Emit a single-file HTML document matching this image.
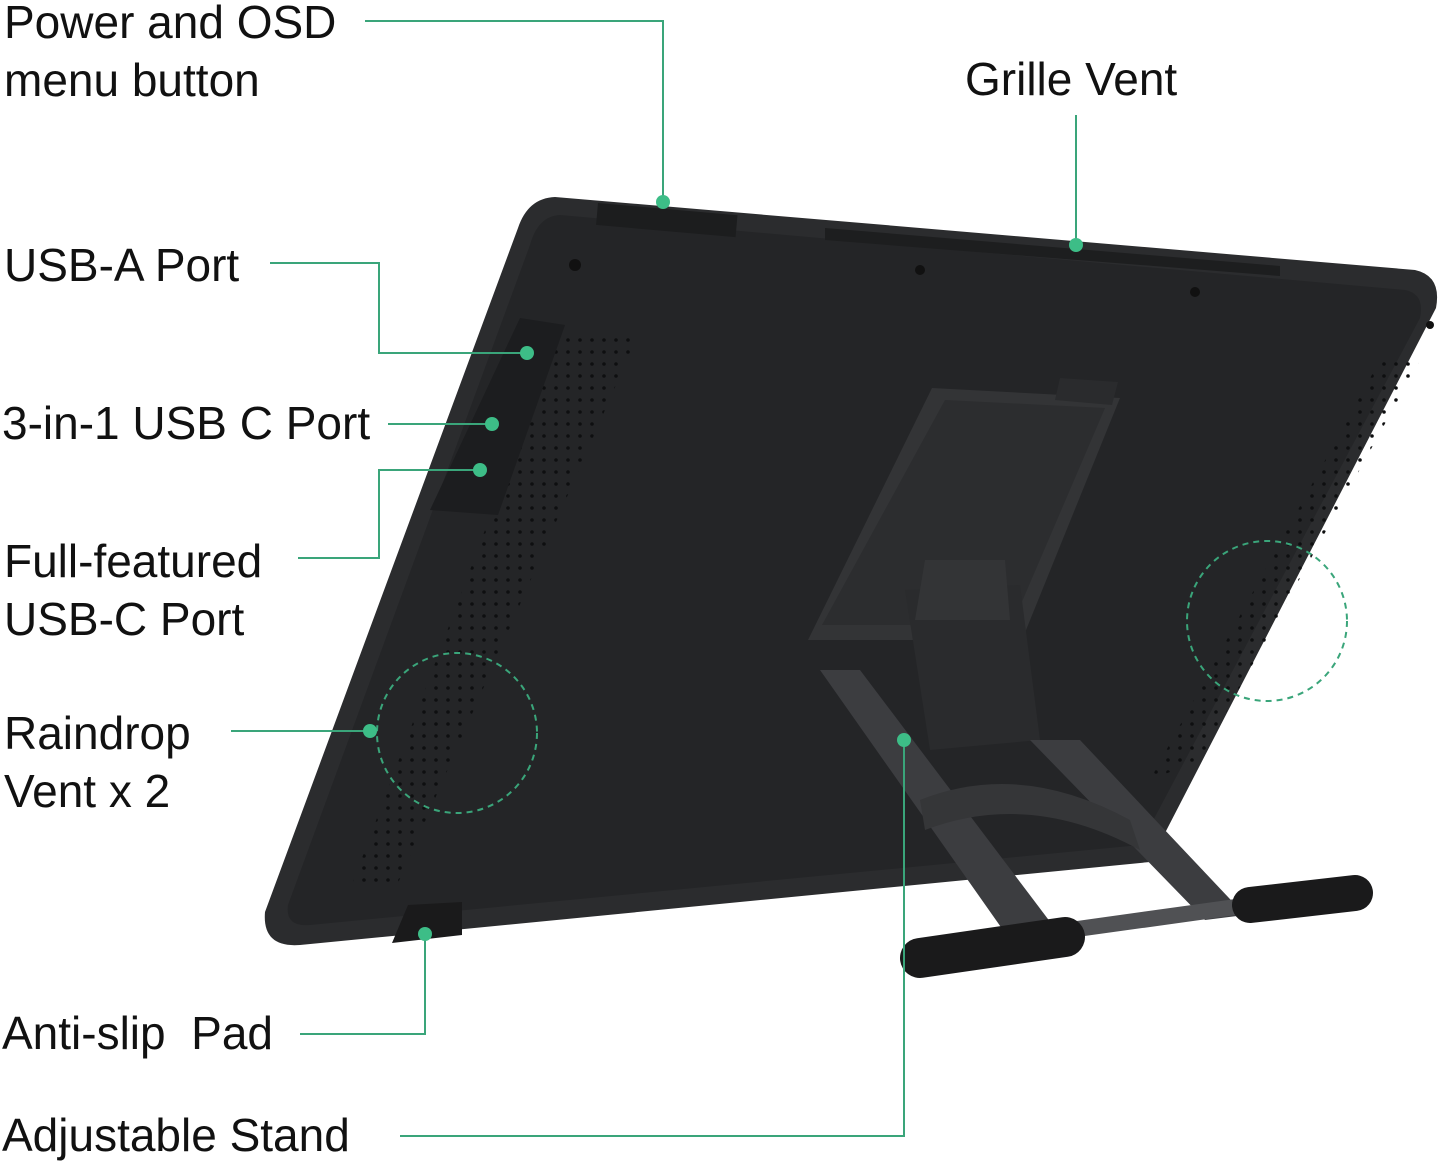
<!DOCTYPE html>
<html><head><meta charset="utf-8"><style>
html,body{margin:0;padding:0;background:#fff;}
body{width:1446px;height:1166px;position:relative;overflow:hidden;font-family:"Liberation Sans",sans-serif;}
.t{position:absolute;font-size:46px;color:#111;line-height:58px;white-space:pre;}
svg{position:absolute;left:0;top:0;}
</style></head><body>
<svg width="1446" height="1166" viewBox="0 0 1446 1166">
<defs>
<pattern id="dots" width="12" height="12" patternUnits="userSpaceOnUse"><circle cx="4" cy="4" r="1.8" fill="#0e0f10"/></pattern>
</defs>
<path d="M555,197 L1415,270 Q1442,276 1436,308 L1150,862 L300,945 Q262,948 265,912 L518,228 Q528,198 555,197 Z" fill="#2b2c2e"/>
<path d="M560,215 L1405,290 Q1425,294 1420,318 L1140,845 L310,925 Q285,927 288,905 L530,245 Q538,216 560,215 Z" fill="#242527"/>
<rect x="598" y="203" width="140" height="22" fill="#1c1d1e" transform="rotate(5 598 203)"/>
<polygon points="825,228 1280,266 1280,276 825,240" fill="#1d1e1f"/>
<polygon points="560,330 640,330 395,890 350,890" fill="url(#dots)"/>
<polygon points="1380,360 1420,360 1200,760 1150,780" fill="url(#dots)"/>
<polygon points="520,318 565,325 498,515 430,510" fill="#1c1d1f"/>
<circle cx="575" cy="265" r="6" fill="#111"/><circle cx="920" cy="270" r="5" fill="#111"/><circle cx="1195" cy="292" r="5" fill="#111"/><circle cx="1430" cy="325" r="4" fill="#111"/>
<polygon points="932,388 1120,398 1022,640 808,640" fill="#333436"/>
<polygon points="945,400 1105,408 1012,625 822,625" fill="#2c2d2f"/>
<polygon points="1060,378 1118,382 1112,405 1055,400" fill="#2a2b2d"/>
<polygon points="905,590 1020,585 1040,740 930,750" fill="#2a2b2d"/>
<polygon points="925,560 1005,560 1010,620 915,620" fill="#333436"/>
<polygon points="820,670 860,670 1060,935 1010,940" fill="#3c3d40"/>
<polygon points="1030,740 1080,740 1245,915 1205,920" fill="#3c3d40"/>
<path d="M920,800 Q1020,760 1130,820 L1140,850 Q1030,790 925,830 Z" fill="#353638"/>
<line x1="1070" y1="930" x2="1250" y2="905" stroke="#505154" stroke-width="16"/>
<line x1="920" y1="958" x2="1065" y2="937" stroke="#1a1a1b" stroke-width="40" stroke-linecap="round"/>
<line x1="1250" y1="905" x2="1355" y2="893" stroke="#1a1a1b" stroke-width="36" stroke-linecap="round"/>
<polygon points="408,905 462,902 462,935 392,943" fill="#1a1a1b"/>
<g stroke="#3aa57a" stroke-width="2" fill="none">
<polyline points="365,21 663,21 663,202"/>
<polyline points="1076,115 1076,245"/>
<polyline points="270,263 379,263 379,353 527,353"/>
<polyline points="388,424 492,424"/>
<polyline points="298,558 379,558 379,470 480,470"/>
<polyline points="231,731 370,731"/>
<polyline points="300,1034 425,1034 425,934"/>
<polyline points="400,1136 904,1136 904,740"/>
<circle cx="457" cy="733" r="80" stroke-dasharray="6,5"/>
<circle cx="1267" cy="621" r="80" stroke-dasharray="6,5"/>
</g>
<g fill="#3dbd87">
<circle cx="663" cy="202" r="7"/><circle cx="1076" cy="245" r="7"/><circle cx="527" cy="353" r="7"/>
<circle cx="492" cy="424" r="7"/><circle cx="480" cy="470" r="7"/><circle cx="370" cy="731" r="7"/>
<circle cx="425" cy="934" r="7"/><circle cx="904" cy="740" r="7"/>
</g>
</svg>
<div class="t" style="left:4px;top:-7px">Power and OSD
menu button</div>
<div class="t" style="left:965px;top:50px">Grille Vent</div>
<div class="t" style="left:4px;top:236px">USB-A Port</div>
<div class="t" style="left:2px;top:394px">3-in-1 USB C Port</div>
<div class="t" style="left:4px;top:532px">Full-featured
USB-C Port</div>
<div class="t" style="left:4px;top:704px">Raindrop
Vent x 2</div>
<div class="t" style="left:2px;top:1004px">Anti-slip  Pad</div>
<div class="t" style="left:2px;top:1106px">Adjustable Stand</div>
</body></html>
